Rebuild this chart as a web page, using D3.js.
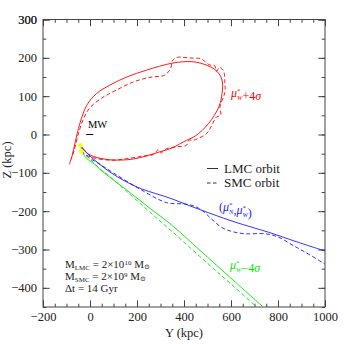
<!DOCTYPE html>
<html>
<head>
<meta charset="utf-8">
<script src="https://cdn.jsdelivr.net/npm/d3@7"></script>
<style>
  html, body { margin: 0; padding: 0; background: #fff; }
  svg text { font-family: "Liberation Serif", "DejaVu Serif", serif; }
</style>
</head>
<body>
<svg id="chart" width="344" height="344"></svg>
<script>
// orbit tracks, [Y, Z] in kpc, traced back from present position
const lmc_red = [[-41,-28],[-20,-45],[14,-57],[85,-66],[184,-64],[298,-45],[349,-35],[411,-15],[448,-4],[505,29],[548,72],[562,107],[562,142],[540,165],[500,180],[434,190],[349,186],[241,168],[156,150],[85,129],[28,107],[-14,76],[-43,29],[-64,-23],[-76,-55],[-88,-78]];
const smc_red = [[-38,-44],[0,-58],[85,-67],[156,-63],[230,-56],[270,-52],[290,-40],[300,-48],[326,-37],[370,-32],[411,-28],[420,-15],[440,-15],[497,3],[515,20],[539,46],[556,50],[553,72],[574,110],[574,133],[567,168],[550,175],[539,165],[530,180],[511,181],[470,198],[440,199],[400,201],[369,201],[350,192],[345,175],[335,165],[319,155],[255,149],[184,137],[113,116],[50,95],[0,70],[-30,38],[-50,0],[-66,-38],[-80,-65]];
const lmc_blue = [[-41,-28],[-10,-50],[30,-72],[85,-98],[150,-122],[220,-142],[340,-166],[420,-185],[477,-198],[600,-225],[700,-244],[760,-255],[880,-280],[1000,-304]];
const smc_blue = [[-38,-44],[0,-62],[43,-78],[99,-100],[200,-138],[312,-175],[348,-180],[400,-181],[440,-186],[477,-198],[520,-222],[562,-243],[610,-254],[661,-259],[746,-259],[803,-268],[860,-288],[916,-307],[1000,-338]];
const lmc_green = [[-41,-28],[-21,-58],[20,-78],[50,-95],[150,-142],[250,-190],[349,-237],[500,-320],[600,-375],[737,-450]];
const smc_green = [[-38,-44],[0,-64],[40,-88],[85,-110],[150,-145],[250,-200],[349,-253],[500,-336],[600,-390],[709,-450]];
const present = [[-41,-28],[-38,-44]];

const x_major = d3.range(-200, 1001, 200);
const x_minor = d3.range(-200, 1001, 50);
const y_major = d3.range(-400, 301, 100);
const y_minor = d3.range(-450, 301, 50);

const margin = { top: 19.5, bottom: 37, left: 43, right: 19 };
const width = 344, height = 344;

const svg = d3.select('#chart');

const xScale = d3.scaleLinear().domain([-200, 1000]).range([margin.left, width - margin.right]);
const yScale = d3.scaleLinear().domain([-450, 300]).range([height - margin.bottom, margin.top]);

svg.append('defs').append('clipPath').attr('id', 'plot_clip')
  .append('rect')
  .attr('x', margin.left).attr('y', margin.top)
  .attr('width', xScale(1000) - xScale(-200))
  .attr('height', yScale(-450) - yScale(300));

/**
 * Axes: ticks point inward on all four sides
 */
const axis_color = '#444';
function add_axis(axis, tx, ty) {
  const g = svg.append('g').attr('transform', `translate(${tx},${ty})`).call(axis);
  g.select('.domain').remove();
  g.selectAll('line').attr('stroke', axis_color);
  g.selectAll('text').attr('fill', '#222').style('font-size', '12.5px').style('font-family', '"Liberation Serif", serif');
  return g;
}
const bottom_y = yScale(-450), top_y = yScale(300);
const left_x = xScale(-200), right_x = xScale(1000);

add_axis(d3.axisBottom(xScale).tickValues(x_minor).tickSize(-3.3).tickFormat(''), 0, bottom_y);
add_axis(d3.axisBottom(xScale).tickValues(x_major).tickSize(-6.7).tickPadding(5.5).tickFormat(d3.format('d')), 0, bottom_y);
add_axis(d3.axisTop(xScale).tickValues(x_minor).tickSize(-3.3).tickFormat(''), 0, top_y);
add_axis(d3.axisTop(xScale).tickValues(x_major).tickSize(-6.7).tickFormat(''), 0, top_y);
add_axis(d3.axisLeft(yScale).tickValues(y_minor).tickSize(-3.3).tickFormat(''), left_x, 0);
add_axis(d3.axisLeft(yScale).tickValues(y_major.concat([300])).tickSize(-6.7).tickPadding(6).tickFormat(d3.format('d')), left_x, 0);
add_axis(d3.axisRight(yScale).tickValues(y_minor).tickSize(-3.3).tickFormat(''), right_x, 0);
add_axis(d3.axisRight(yScale).tickValues(y_major.concat([300])).tickSize(-6.7).tickFormat(''), right_x, 0);

svg.append('rect')
  .attr('x', left_x).attr('y', top_y)
  .attr('width', right_x - left_x).attr('height', bottom_y - top_y)
  .attr('fill', 'none').attr('stroke', axis_color).attr('stroke-width', 1);

/**
 * Axis labels
 */
svg.append('text')
  .attr('x', 184).attr('y', 337)
  .attr('text-anchor', 'middle')
  .attr('fill', '#222')
  .style('font-size', '12.5px')
  .text('Y  (kpc)');

svg.append('text')
  .attr('transform', 'translate(11,160) rotate(-90)')
  .attr('text-anchor', 'middle')
  .attr('fill', '#222')
  .style('font-size', '12.5px')
  .text('Z  (kpc)');

/**
 * Orbits
 */
const line = d3.line()
  .x((d) => xScale(d[0]))
  .y((d) => yScale(d[1]))
  .curve(d3.curveCatmullRom.alpha(0.5));

const orbits = [
  { data: lmc_red, color: '#ff0000', dash: null },
  { data: smc_red, color: '#ff0000', dash: '4,2.5' },
  { data: lmc_blue, color: '#1a1aff', dash: null },
  { data: smc_blue, color: '#1a1aff', dash: '4,2.5' },
  { data: lmc_green, color: '#00e600', dash: null },
  { data: smc_green, color: '#00e600', dash: '4,2.5' },
];

const g_orbits = svg.append('g').attr('clip-path', 'url(#plot_clip)');
g_orbits.selectAll('.orbit')
  .data(orbits)
  .enter()
  .append('path')
  .attr('class', 'orbit')
  .attr('d', (d) => line(d.data))
  .attr('fill', 'none')
  .attr('stroke', (d) => d.color)
  .attr('stroke-width', 0.9)
  .attr('stroke-dasharray', (d) => d.dash);

g_orbits.selectAll('.present')
  .data(present)
  .enter()
  .append('circle')
  .attr('class', 'present')
  .attr('cx', (d) => xScale(d[0]))
  .attr('cy', (d) => yScale(d[1]))
  .attr('r', 2.3)
  .attr('fill', '#ffff00');

// Milky Way marker
svg.append('line')
  .attr('x1', xScale(-16)).attr('x2', xScale(14))
  .attr('y1', yScale(0)).attr('y2', yScale(0))
  .attr('stroke', '#000').attr('stroke-width', 1);
svg.append('text')
  .attr('x', 88).attr('y', 128)
  .style('font-size', '10.5px')
  .text('MW');

/**
 * Curve labels: mu with superscript * and subscript
 */
function mu(text, sub) {
  text.append('tspan').style('font-style', 'italic').text('μ');
  text.append('tspan').attr('dy', -4).style('font-size', '7px').text('*');
  text.append('tspan').attr('dx', -3.5).attr('dy', 7).style('font-size', '6.5px').style('font-style', 'italic').text(sub);
  text.append('tspan').attr('dy', -3).text('');
}

let t = svg.append('text').attr('x', 231).attr('y', 97).attr('fill', '#ff0000').style('font-size', '12px');
mu(t, 'W');
t.append('tspan').text('+4');
t.append('tspan').style('font-style', 'italic').text('σ');

t = svg.append('text').attr('x', 230).attr('y', 269).attr('fill', '#00e600').style('font-size', '12px');
mu(t, 'W');
t.append('tspan').text('−4');
t.append('tspan').style('font-style', 'italic').text('σ');

t = svg.append('text').attr('x', 219).attr('y', 211).attr('fill', '#1a1aff').style('font-size', '12px');
t.append('tspan').text('(');
mu(t, 'N');
t.append('tspan').text(',');
mu(t, 'W');
t.append('tspan').text(')');

/**
 * Legend
 */
const legend = [
  { label: 'LMC orbit', dash: null, y: 168.5 },
  { label: 'SMC orbit', dash: '3.5,2.5', y: 183 },
];
const g_legend = svg.append('g');
g_legend.selectAll('line')
  .data(legend)
  .enter()
  .append('line')
  .attr('x1', 207).attr('x2', 218)
  .attr('y1', (d) => d.y).attr('y2', (d) => d.y)
  .attr('stroke', '#333').attr('stroke-width', 1)
  .attr('stroke-dasharray', (d) => d.dash);
g_legend.selectAll('text')
  .data(legend)
  .enter()
  .append('text')
  .attr('x', 224).attr('y', (d) => d.y + 4)
  .attr('fill', '#222')
  .style('font-size', '13px')
  .text((d) => d.label);

/**
 * Mass / time annotation
 */
const notes = [
  { m: 'M', sub: 'LMC', rest: ' = 2×10', sup: '10', tail: ' M', sun: '⊙' },
  { m: 'M', sub: 'SMC', rest: ' = 2×10', sup: '9', tail: ' M', sun: '⊙' },
];
notes.forEach((n, i) => {
  const tx = svg.append('text').attr('x', 65).attr('y', 268 + i * 12).attr('fill', '#222').style('font-size', '11px');
  tx.append('tspan').text(n.m);
  tx.append('tspan').attr('dy', 1.5).style('font-size', '7px').text(n.sub);
  tx.append('tspan').attr('dy', -1.5).text(n.rest);
  tx.append('tspan').attr('dy', -3).style('font-size', '7px').text(n.sup);
  tx.append('tspan').attr('dy', 3).text(n.tail);
  tx.append('tspan').attr('dy', 1).style('font-size', '7px').text(n.sun);
});
svg.append('text').attr('x', 65).attr('y', 268 + 2 * 12).attr('fill', '#222').style('font-size', '11px').text('Δt = 14 Gyr');
</script>
</body>
</html>
